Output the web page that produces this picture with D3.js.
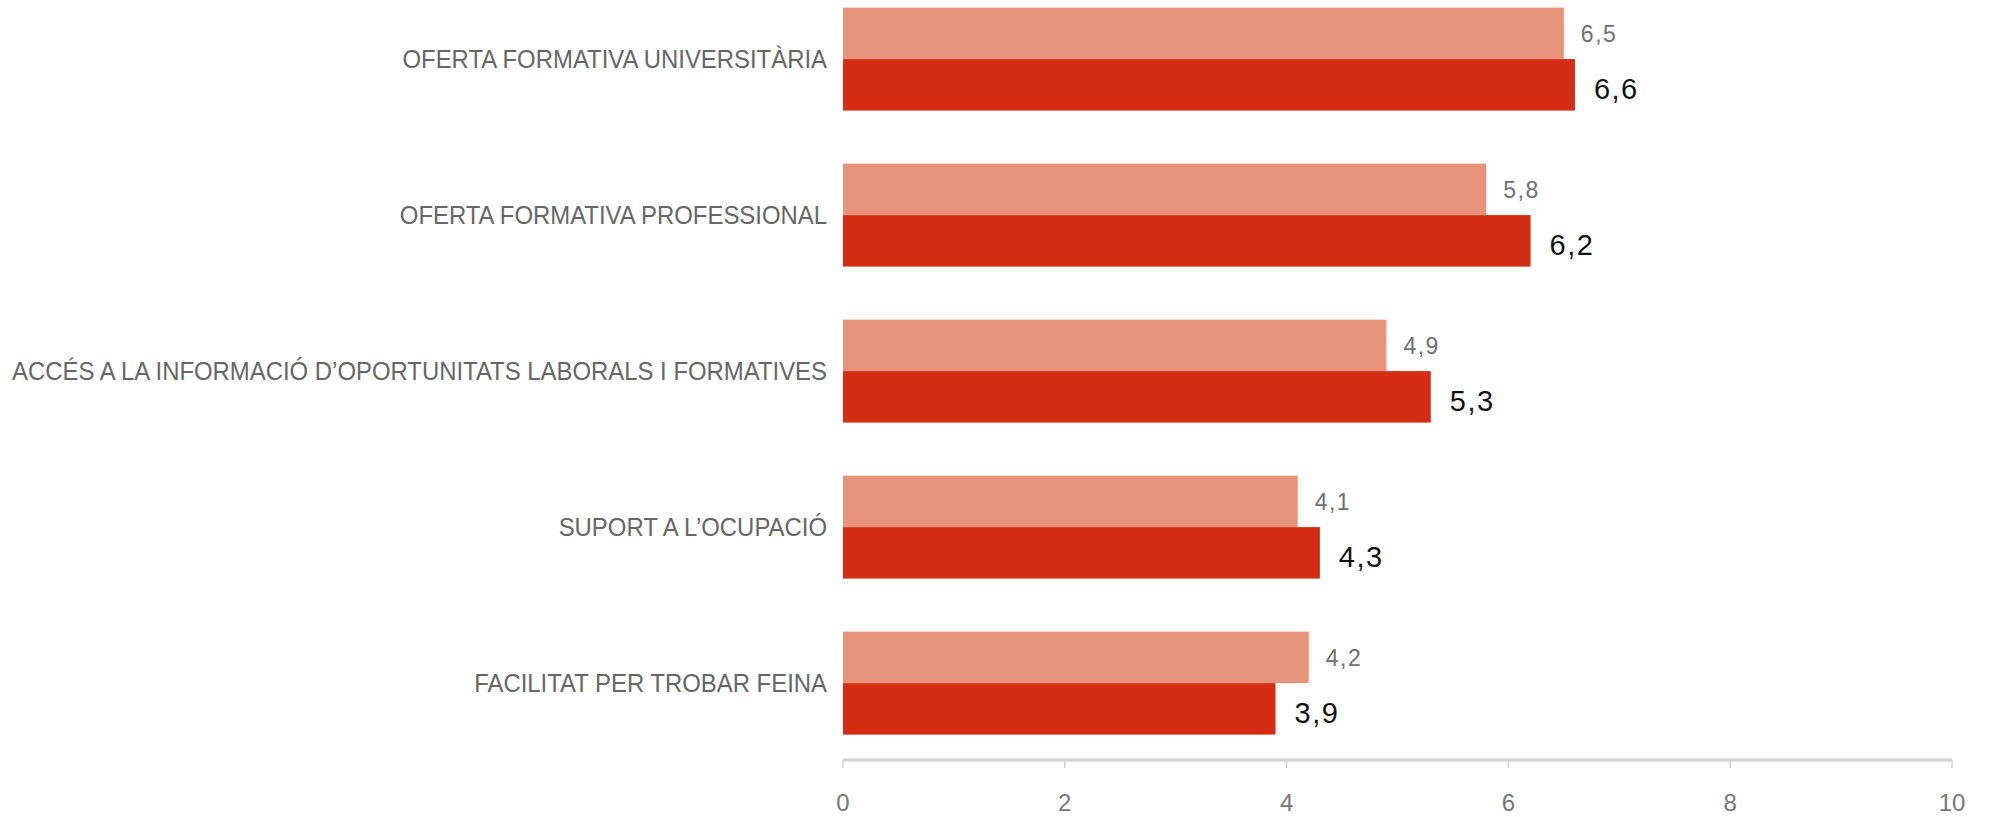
<!DOCTYPE html>
<html>
<head>
<meta charset="utf-8">
<script src="https://cdn.jsdelivr.net/npm/d3@7"></script>
<style>
  body { margin: 0; background: #fff; }
  .cat-label { font-family: "Liberation Sans", sans-serif; fill: #666; }
  .tick-label { font-family: "Liberation Sans", sans-serif; fill: #777; }
</style>
</head>
<body>
<svg id="chart" width="1995" height="817"></svg>
<script>
// Data
var CATEGORIES = [
    "OFERTA FORMATIVA UNIVERSITÀRIA",
    "OFERTA FORMATIVA PROFESSIONAL",
    "ACCÉS A LA INFORMACIÓ D’OPORTUNITATS LABORALS I FORMATIVES",
    "SUPORT A L’OCUPACIÓ",
    "FACILITAT PER TROBAR FEINA"
];
var SERIES_KEYS = ["light", "dark"];
var LIGHT_VALUES = [6.5, 5.8, 4.9, 4.1, 4.2];
var DARK_VALUES = [6.6, 6.2, 5.3, 4.3, 3.9];
var X_TICKS = [0, 2, 4, 6, 8, 10];

// Layout
var PLOT_LEFT = 843;
var PLOT_RIGHT = 1952;
var PLOT_TOP = 7.6;
var PLOT_BOTTOM = 734.6;
var AXIS_Y = 760;
var LONGEST_LABEL_WIDTH = 815;   // condensed look of the original labels
var LIGHT_COLOR = "#E8947B";
var DARK_COLOR = "#D52D14";
var AXIS_COLOR = "#d2d2d2";

var svg = d3.select("#chart");

var xScale = d3.scaleLinear()
    .domain([0, 10])
    .range([PLOT_LEFT, PLOT_RIGHT]);

var yScale = d3.scaleBand()
    .domain(CATEGORIES)
    .range([PLOT_TOP, PLOT_BOTTOM])
    .paddingInner(0.34)
    .paddingOuter(0);

var subScale = d3.scaleBand()
    .domain(SERIES_KEYS)
    .range([0, yScale.bandwidth()]);

var rows = CATEGORIES.map((c, i) => ({ cat: c, light: LIGHT_VALUES[i], dark: DARK_VALUES[i] }));

function fmt(v) {
    return d3.format(".1f")(v).replace(".", ",");
}

// Category labels
var catLabels = svg.selectAll(".cat-label")
    .data(rows)
    .enter()
    .append("text")
    .attr("class", "cat-label")
    .attr("x", PLOT_LEFT - 16)
    .attr("y", d => yScale(d.cat) + yScale.bandwidth() / 2)
    .attr("text-anchor", "end")
    .attr("dominant-baseline", "central")
    .style("font-size", "25px")
    .text(d => d.cat);

// squeeze labels horizontally, same ratio for all
var widths = [];
catLabels.each(function () { widths.push(this.getComputedTextLength()); });
var squeeze = LONGEST_LABEL_WIDTH / d3.max(widths);
catLabels
    .attr("textLength", (d, i) => widths[i] * squeeze)
    .attr("lengthAdjust", "spacingAndGlyphs");

// Light bars
svg.selectAll(".light-bar")
    .data(rows)
    .enter()
    .append("rect")
    .attr("class", "light-bar")
    .attr("x", xScale(0))
    .attr("y", d => yScale(d.cat) + subScale("light"))
    .attr("width", d => xScale(d.light) - xScale(0))
    .attr("height", subScale.bandwidth())
    .attr("fill", LIGHT_COLOR);

// Dark bars
svg.selectAll(".dark-bar")
    .data(rows)
    .enter()
    .append("rect")
    .attr("class", "dark-bar")
    .attr("x", xScale(0))
    .attr("y", d => yScale(d.cat) + subScale("dark"))
    .attr("width", d => xScale(d.dark) - xScale(0))
    .attr("height", subScale.bandwidth())
    .attr("fill", DARK_COLOR);

// Value labels
svg.selectAll(".light-val")
    .data(rows)
    .enter()
    .append("text")
    .attr("class", "light-val")
    .attr("x", d => xScale(d.light) + 17)
    .attr("y", d => yScale(d.cat) + subScale("light") + subScale.bandwidth() / 2 + 1)
    .attr("dominant-baseline", "central")
    .style("font-family", "'Liberation Sans', sans-serif")
    .style("font-size", "23px")
    .style("letter-spacing", "1.5px")
    .style("fill", "#707070")
    .text(d => fmt(d.light));

svg.selectAll(".dark-val")
    .data(rows)
    .enter()
    .append("text")
    .attr("class", "dark-val")
    .attr("x", d => xScale(d.dark) + 19)
    .attr("y", d => yScale(d.cat) + subScale("dark") + subScale.bandwidth() / 2 + 4)
    .attr("dominant-baseline", "central")
    .style("font-family", "'Liberation Sans', sans-serif")
    .style("font-size", "29px")
    .style("letter-spacing", "1.5px")
    .style("fill", "#111")
    .text(d => fmt(d.dark));

// X axis
svg.append("line")
    .attr("x1", xScale(0))
    .attr("x2", xScale(10))
    .attr("y1", AXIS_Y)
    .attr("y2", AXIS_Y)
    .attr("stroke", AXIS_COLOR)
    .attr("stroke-width", 3);

svg.selectAll(".x-tick")
    .data(X_TICKS)
    .enter()
    .append("line")
    .attr("class", "x-tick")
    .attr("x1", d => xScale(d))
    .attr("x2", d => xScale(d))
    .attr("y1", AXIS_Y)
    .attr("y2", AXIS_Y + 8)
    .attr("stroke", AXIS_COLOR)
    .attr("stroke-width", 1.5);

svg.selectAll(".tick-label")
    .data(X_TICKS)
    .enter()
    .append("text")
    .attr("class", "tick-label")
    .attr("x", d => xScale(d))
    .attr("y", 802)
    .attr("text-anchor", "middle")
    .attr("dominant-baseline", "central")
    .style("font-size", "24px")
    .text(d => d);
</script>
</body>
</html>
